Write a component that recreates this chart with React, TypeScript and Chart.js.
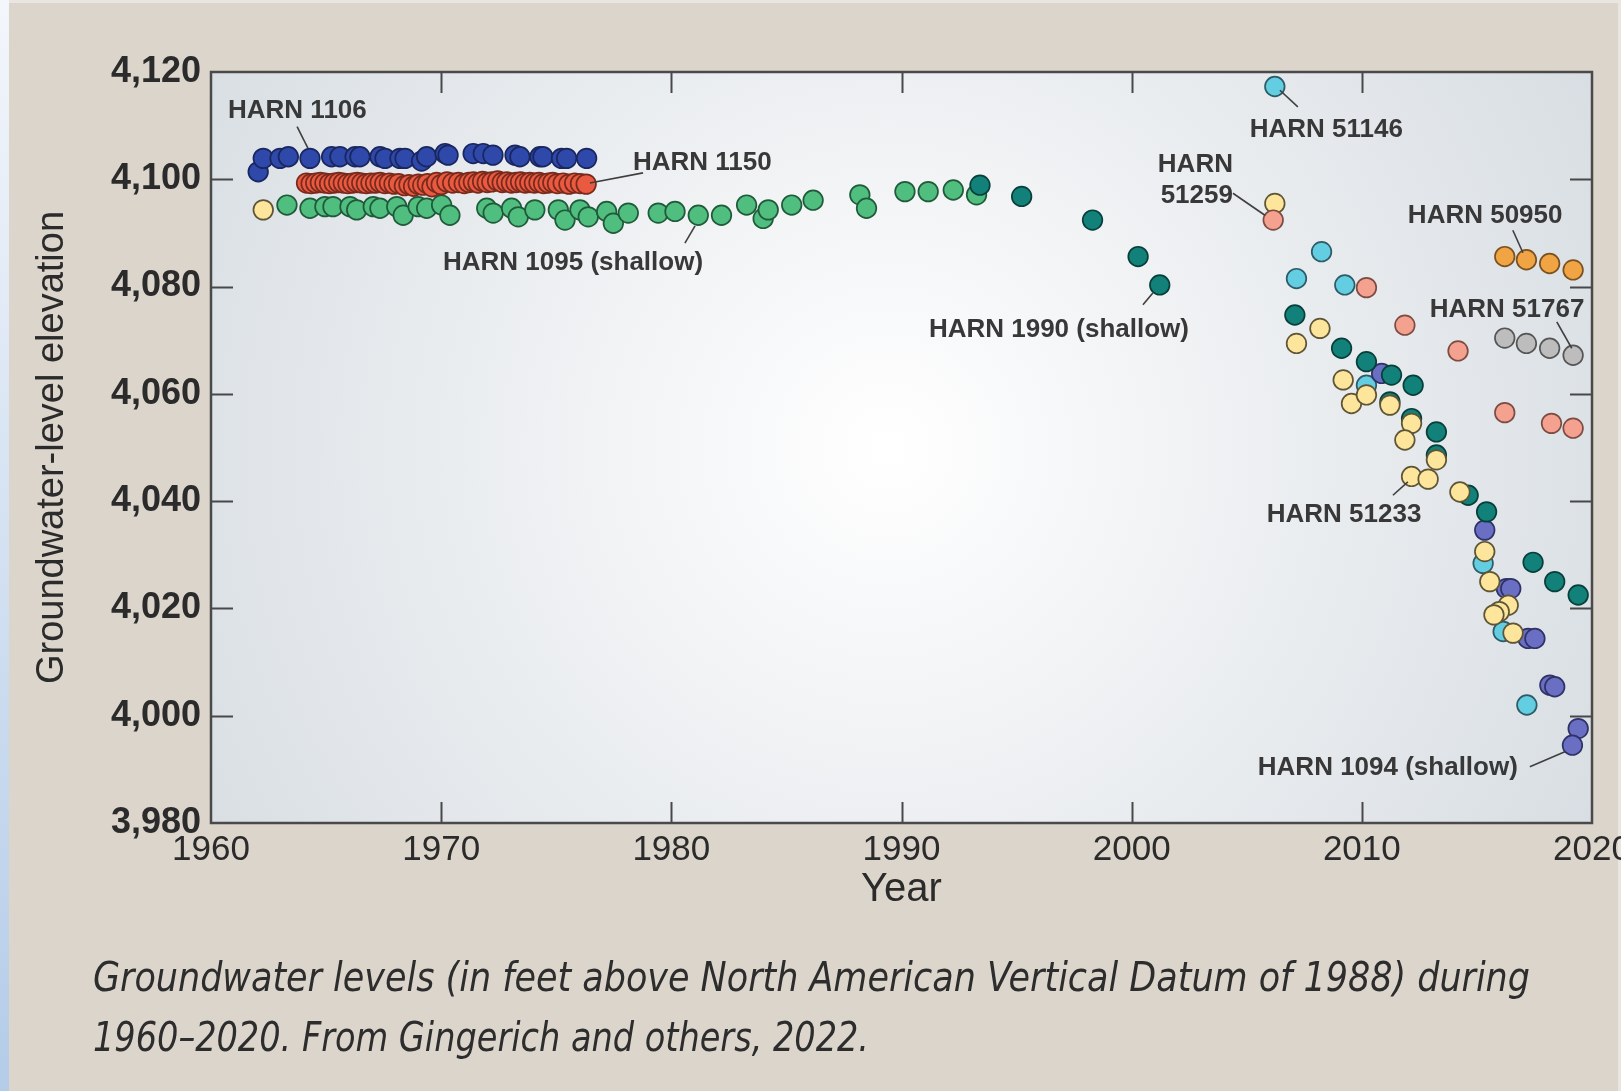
import React, { useEffect, useRef } from 'react';
import { Chart, registerables } from 'chart.js';

Chart.register(...registerables);

// ---------- axes ----------
const xTickValues = [1960, 1970, 1980, 1990, 2000, 2010, 2020];
const yTickValues = [3980, 4000, 4020, 4040, 4060, 4080, 4100, 4120];
const xTitle = 'Year';
const yTitle = 'Groundwater-level elevation';
const captionLines = [
  'Groundwater levels (in feet above North American Vertical Datum of 1988) during',
  '1960\u20132020. From Gingerich and others, 2022.',
];

// ---------- series ----------
const harn1106Years = [1962.05, 1962.27, 1963.0, 1963.36, 1964.3, 1965.24, 1965.6, 1966.26, 1966.47, 1967.34, 1967.56, 1968.21, 1968.43, 1969.15, 1969.37, 1970.17, 1970.3, 1971.39, 1971.83, 1972.25, 1973.21, 1973.42, 1974.29, 1974.42, 1975.23, 1975.45, 1976.32];
const harn1106Levels = [4101.4, 4103.9, 4103.9, 4104.2, 4103.9, 4104.2, 4104.2, 4104.2, 4104.2, 4104.2, 4103.9, 4103.9, 4103.9, 4103.4, 4104.2, 4104.8, 4104.5, 4104.8, 4104.8, 4104.5, 4104.5, 4104.2, 4104.2, 4104.2, 4103.9, 4103.9, 4103.9];

const harn1150Years = [1964.15, 1964.35, 1964.55, 1964.75, 1964.95, 1965.15, 1965.35, 1965.55, 1965.75, 1965.95, 1966.15, 1966.35, 1966.55, 1966.75, 1966.95, 1967.15, 1967.35, 1967.55, 1967.75, 1967.95, 1968.15, 1968.4, 1968.6, 1968.8, 1969.0, 1969.2, 1969.4, 1969.6, 1969.8, 1970.0, 1970.25, 1970.5, 1970.75, 1971.0, 1971.2, 1971.4, 1971.6, 1971.8, 1972.0, 1972.2, 1972.45, 1972.65, 1972.85, 1973.05, 1973.25, 1973.45, 1973.65, 1973.85, 1974.05, 1974.25, 1974.45, 1974.65, 1974.85, 1975.05, 1975.3, 1975.55, 1975.8, 1976.05, 1976.3];
const harn1150Levels = [4099.3, 4099.2, 4099.3, 4099.4, 4099.3, 4099.2, 4099.3, 4099.4, 4099.3, 4099.2, 4099.3, 4099.4, 4099.3, 4099.2, 4099.3, 4099.3, 4099.4, 4099.2, 4099.3, 4099.1, 4099.2, 4098.8, 4099.0, 4098.7, 4099.1, 4098.9, 4099.2, 4098.6, 4099.4, 4099.0, 4099.5, 4099.3, 4099.4, 4099.2, 4099.4, 4099.5, 4099.3, 4099.6, 4099.4, 4099.5, 4099.7, 4099.4, 4099.5, 4099.3, 4099.4, 4099.5, 4099.3, 4099.4, 4099.3, 4099.4, 4099.2, 4099.3, 4099.4, 4099.2, 4099.3, 4099.1, 4099.3, 4099.2, 4099.1];

const harn1095Years = [1963.3, 1964.3, 1964.95, 1965.3, 1966.04, 1966.33, 1967.05, 1967.34, 1968.07, 1968.35, 1969.0, 1969.37, 1970.02, 1970.38, 1971.98, 1972.26, 1973.06, 1973.35, 1974.07, 1975.09, 1975.38, 1976.03, 1976.39, 1977.19, 1977.48, 1978.13, 1979.43, 1980.16, 1981.17, 1982.18, 1983.27, 1983.99, 1984.21, 1985.23, 1986.16, 1988.19, 1988.48, 1990.15, 1991.16, 1992.25, 1993.26];
const harn1095Levels = [4095.2, 4094.6, 4094.9, 4094.9, 4094.9, 4094.3, 4094.9, 4094.6, 4094.9, 4093.3, 4094.9, 4094.6, 4095.2, 4093.3, 4094.6, 4093.7, 4094.6, 4093.0, 4094.3, 4094.3, 4092.4, 4094.3, 4093.0, 4094.0, 4091.8, 4093.7, 4093.7, 4094.0, 4093.3, 4093.3, 4095.2, 4092.7, 4094.3, 4095.2, 4096.1, 4097.1, 4094.6, 4097.7, 4097.7, 4098.0, 4097.1];

const harn1990Years = [1993.41, 1995.22, 1998.3, 2000.28, 2001.22, 2007.09, 2009.12, 2010.2, 2011.29, 2012.23, 2011.22, 2012.16, 2013.24, 2013.24, 2014.62, 2015.42, 2017.44, 2018.38, 2019.4];
const harn1990Levels = [4098.9, 4096.8, 4092.4, 4085.6, 4080.3, 4074.7, 4068.5, 4066.0, 4063.5, 4061.6, 4058.5, 4055.4, 4052.9, 4048.6, 4041.1, 4038.0, 4028.6, 4025.0, 4022.5];

const harn1094Years = [2010.86, 2015.34, 2016.28, 2016.47, 2017.22, 2017.52, 2018.17, 2018.38, 2019.4, 2019.15];
const harn1094Levels = [4063.8, 4034.6, 4023.7, 4023.7, 4014.4, 4014.4, 4005.7, 4005.4, 3997.6, 3994.5];

const harn51146Years = [2006.22, 2007.16, 2008.25, 2009.26, 2010.2, 2015.27, 2016.14, 2017.17];
const harn51146Levels = [4117.3, 4081.5, 4086.5, 4080.3, 4061.6, 4028.4, 4015.7, 4002.0];

const harn51259Years = [2006.15, 2010.2, 2011.87, 2014.18, 2016.21, 2018.24, 2019.18];
const harn51259Levels = [4092.4, 4079.8, 4072.8, 4068.0, 4056.5, 4054.5, 4053.6];

const harn51233Years = [1962.27, 2006.22, 2007.16, 2008.18, 2009.19, 2009.55, 2010.2, 2011.22, 2012.16, 2011.87, 2013.24, 2012.16, 2012.88, 2014.26, 2015.34, 2015.56, 2016.36, 2015.97, 2015.74, 2016.57];
const harn51233Levels = [4094.3, 4095.5, 4069.4, 4072.2, 4062.6, 4058.2, 4059.8, 4057.9, 4054.5, 4051.4, 4047.7, 4044.6, 4044.1, 4041.7, 4030.6, 4025.0, 4020.6, 4019.4, 4018.8, 4015.4];

const harn50950Years = [2016.21, 2017.15, 2018.16, 2019.18];
const harn50950Levels = [4085.6, 4085.0, 4084.3, 4083.1];

const harn51767Years = [2016.21, 2017.15, 2018.16, 2019.18];
const harn51767Levels = [4070.4, 4069.4, 4068.5, 4067.2];

// ---------- annotations (data coordinates) ----------
type Note = { lines: string[]; at: [number, number]; align: CanvasTextAlign; leader: [number, number, number, number] };
const notes: Note[] = [
  { lines: ['HARN 1106'], at: [1960.74, 4111.4], align: 'left', leader: [1963.74, 4109.8, 1964.21, 4105.8] },
  { lines: ['HARN 1150'], at: [1978.33, 4101.7], align: 'left', leader: [1976.46, 4099.3, 1978.77, 4101.2] },
  { lines: ['HARN 1095 (shallow)'], at: [1970.08, 4083.1], align: 'left', leader: [1981.03, 4091.3, 1980.59, 4088.1] },
  { lines: ['HARN 1990 (shallow)'], at: [1991.19, 4070.6], align: 'left', leader: [2000.92, 4078.8, 2000.49, 4076.6] },
  { lines: ['HARN 51146'], at: [2005.13, 4107.9], align: 'left', leader: [2006.44, 4116.6, 2007.22, 4113.5] },
  { lines: ['HARN', '51259'], at: [2004.4, 4101.4], align: 'right', leader: [2004.4, 4097.4, 2005.79, 4093.3] },
  { lines: ['HARN 50950'], at: [2012.0, 4091.8], align: 'left', leader: [2016.56, 4090.5, 2017.0, 4086.3] },
  { lines: ['HARN 51767'], at: [2012.95, 4074.3], align: 'left', leader: [2018.47, 4073.4, 2019.12, 4068.5] },
  { lines: ['HARN 51233'], at: [2005.87, 4036.1], align: 'left', leader: [2011.35, 4041.1, 2012.0, 4043.6] },
  { lines: ['HARN 1094 (shallow)'], at: [2005.48, 3988.9], align: 'left', leader: [2017.3, 3990.5, 2018.82, 3993.3] },
];

const NARROW = "'Liberation Sans Narrow', 'DejaVu Sans Condensed', 'Arial Narrow', 'Liberation Sans', sans-serif";
const SANS = "'Liberation Sans', Arial, sans-serif";

const zip = (xs: number[], ys: number[]) => xs.map((x, i) => ({ x, y: ys[i] }));

const seriesDefs = [
  { label: 'HARN 51259', xs: harn51259Years, ys: harn51259Levels, fill: '#f5a190', edge: '#7c4c42' },
  { label: 'HARN 51233', xs: harn51233Years, ys: harn51233Levels, fill: '#fde69c', edge: '#5e5536' },
  { label: 'HARN 1990 (shallow)', xs: harn1990Years, ys: harn1990Levels, fill: '#11817a', edge: '#093f3b' },
  { label: 'HARN 1094 (shallow)', xs: harn1094Years, ys: harn1094Levels, fill: '#6b6fc3', edge: '#2f3266' },
  { label: 'HARN 51146', xs: harn51146Years, ys: harn51146Levels, fill: '#63cde1', edge: '#2d5b66' },
  { label: 'HARN 51767', xs: harn51767Years, ys: harn51767Levels, fill: '#bdbdbd', edge: '#555555' },
  { label: 'HARN 50950', xs: harn50950Years, ys: harn50950Levels, fill: '#f1a444', edge: '#7a5220' },
  { label: 'HARN 1150', xs: harn1150Years, ys: harn1150Levels, fill: '#ea5a41', edge: '#7a2a1c' },
  { label: 'HARN 1106', xs: harn1106Years, ys: harn1106Levels, fill: '#2e49a9', edge: '#1a2660' },
  { label: 'HARN 1095 (shallow)', xs: harn1095Years, ys: harn1095Levels, fill: '#50be7e', edge: '#1f5a3a' },
];

const backgroundPlugin = {
  id: 'pageBackground',
  beforeDraw(chart: any) {
    const { ctx, width, height, chartArea } = chart;
    ctx.save();
    ctx.fillStyle = '#dcd5cc';
    ctx.fillRect(0, 0, width, height);
    const strip = ctx.createLinearGradient(0, 0, 0, height);
    strip.addColorStop(0, '#f3f6fb');
    strip.addColorStop(1, '#b4cce8');
    ctx.fillStyle = strip;
    ctx.fillRect(0, 0, 9, height);
    ctx.fillStyle = '#e9e6e2';
    ctx.fillRect(9, 0, width - 9, 3);
    ctx.fillRect(width - 3, 0, 3, height);
    const { left, top, right, bottom } = chartArea;
    const cx = left + (right - left) * 0.49;
    const cy = top + (bottom - top) * 0.5;
    const g = ctx.createRadialGradient(cx, cy, 0, cx, cy, 820);
    g.addColorStop(0, '#ffffff');
    g.addColorStop(0.55, '#e9ecef');
    g.addColorStop(1, '#d7dde2');
    ctx.fillStyle = g;
    ctx.fillRect(left, top, right - left, bottom - top);
    ctx.restore();
  },
};

const framePlugin = {
  id: 'frameAndNotes',
  afterDatasetsDraw(chart: any) {
    const { ctx, chartArea, scales } = chart;
    const { left, top, right, bottom } = chartArea;
    const xs = scales.x;
    const ys = scales.y;
    ctx.save();
    ctx.strokeStyle = '#4a4a4a';
    ctx.lineWidth = 2.5;
    ctx.strokeRect(left, top, right - left, bottom - top);
    ctx.lineWidth = 2;
    ctx.strokeStyle = '#484848';
    ctx.beginPath();
    xTickValues.slice(1, -1).forEach((v) => {
      const px = Math.round(xs.getPixelForValue(v)) + 0.5;
      ctx.moveTo(px, bottom);
      ctx.lineTo(px, bottom - 21);
      ctx.moveTo(px, top);
      ctx.lineTo(px, top + 21);
    });
    yTickValues.slice(1, -1).forEach((v) => {
      const py = Math.round(ys.getPixelForValue(v)) + 0.5;
      ctx.moveTo(left, py);
      ctx.lineTo(left + 22, py);
      ctx.moveTo(right, py);
      ctx.lineTo(right - 22, py);
    });
    ctx.stroke();

    // annotations
    ctx.strokeStyle = '#3f3f3f';
    ctx.lineWidth = 1.6;
    ctx.fillStyle = '#383838';
    ctx.font = `bold 26px ${SANS}`;
    ctx.textBaseline = 'alphabetic';
    notes.forEach((n) => {
      const [x1, y1, x2, y2] = n.leader;
      ctx.beginPath();
      ctx.moveTo(xs.getPixelForValue(x1), ys.getPixelForValue(y1));
      ctx.lineTo(xs.getPixelForValue(x2), ys.getPixelForValue(y2));
      ctx.stroke();
      ctx.textAlign = n.align;
      const tx = xs.getPixelForValue(n.at[0]);
      const ty = ys.getPixelForValue(n.at[1]);
      n.lines.forEach((line, i) => ctx.fillText(line, tx, ty + i * 31));
    });
    ctx.restore();
  },
};

export default function App() {
  const canvasRef = useRef<HTMLCanvasElement | null>(null);
  const lineRefs = useRef<(HTMLDivElement | null)[]>([]);

  useEffect(() => {
    document.body.style.margin = '0';
    const canvas = canvasRef.current;
    if (!canvas) return;
    const datasets = seriesDefs.map((s) => ({
      label: s.label,
      data: zip(s.xs, s.ys),
      backgroundColor: s.fill,
      borderColor: s.edge,
      borderWidth: 1.7,
      pointRadius: 9.8,
      pointHoverRadius: 9.8,
      showLine: false,
    }));
    const chart = new Chart(canvas, {
      type: 'scatter',
      data: { datasets },
      options: {
        animation: false,
        responsive: false,
        devicePixelRatio: 1,
        events: [],
        layout: { padding: { left: 0, top: 72, right: 29, bottom: 177 } },
        plugins: { legend: { display: false }, tooltip: { enabled: false } },
        scales: {
          x: {
            type: 'linear',
            position: 'bottom',
            min: xTickValues[0],
            max: xTickValues[xTickValues.length - 1],
            grid: { display: false, drawTicks: false },
            border: { display: false },
            afterBuildTicks: (s: any) => {
              s.ticks = xTickValues.map((v) => ({ value: v }));
            },
            afterFit: (s: any) => {
              s.height = 91;
              s.paddingLeft = 0;
              s.paddingRight = 0;
            },
            ticks: {
              autoSkip: false,
              maxRotation: 0,
              padding: 6,
              color: '#2b2b2b',
              font: { family: SANS, size: 35 },
              callback: (v: any) => String(v),
            },
            title: {
              display: true,
              text: xTitle,
              color: '#2b2b2b',
              padding: 0,
              font: { family: SANS, size: 40 },
            },
          },
          y: {
            type: 'linear',
            position: 'left',
            min: yTickValues[0],
            max: yTickValues[yTickValues.length - 1],
            grid: { display: false, drawTicks: false },
            border: { display: false },
            afterBuildTicks: (s: any) => {
              s.ticks = yTickValues.map((v) => ({ value: v }));
            },
            afterFit: (s: any) => {
              s.width = 211;
              s.paddingTop = 0;
              s.paddingBottom = 0;
            },
            ticks: {
              autoSkip: false,
              padding: 10,
              color: '#2b2b2b',
              font: { family: SANS, size: 36, weight: 'bold' },
              callback: (v: any) => Number(v).toLocaleString('en-US'),
            },
            title: {
              display: true,
              text: yTitle,
              color: '#2b2b2b',
              padding: { top: 30, bottom: 0 },
              font: { family: SANS, size: 38 },
            },
          },
        },
      },
      plugins: [backgroundPlugin, framePlugin],
    } as any);

    const targets = [1437, 776];
    lineRefs.current.forEach((el, i) => {
      if (!el) return;
      el.style.transform = 'none';
      const w = el.getBoundingClientRect().width;
      if (w > 0) el.style.transform = `scaleX(${targets[i] / w})`;
    });

    return () => chart.destroy();
  }, []);

  return (
    <div style={{ position: 'relative', width: 1621, height: 1091, overflow: 'hidden' }}>
      <canvas ref={canvasRef} width={1621} height={1091} style={{ position: 'absolute', left: 0, top: 0, display: 'block' }} />
      {captionLines.map((line, i) => (
        <div
          key={i}
          ref={(el) => {
            lineRefs.current[i] = el;
          }}
          style={{
            position: 'absolute',
            left: 93,
            top: 957 + i * 60,
            fontFamily: NARROW,
            fontStyle: 'italic',
            fontSize: 41,
            lineHeight: 1,
            color: '#2d2d2d',
            whiteSpace: 'nowrap',
            transformOrigin: 'left top',
            display: 'inline-block',
          }}
        >
          {line}
        </div>
      ))}
    </div>
  );
}
